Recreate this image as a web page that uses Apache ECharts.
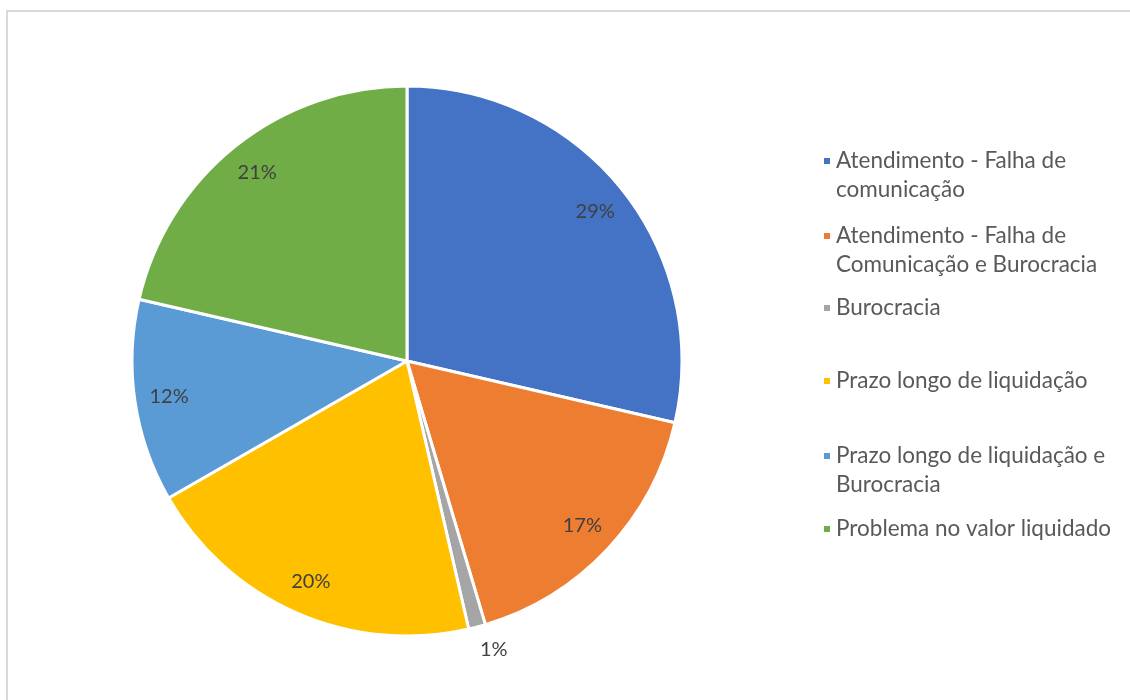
<!DOCTYPE html>
<html>
<head>
<meta charset="utf-8">
<script src="https://cdn.jsdelivr.net/npm/echarts@6/dist/echarts.min.js"></script>
<style>
  body { margin: 0; background: #fff; }
  #frame { position: absolute; left: 6px; top: 10px; width: 1200px; height: 800px;
           border-left: 2px solid #d9d9d9; border-top: 2px solid #d9d9d9; }
  #chart { position: absolute; left: 0; top: 0; width: 1130px; height: 700px; }
</style>
</head>
<body>
<div id="frame"></div>
<div id="chart"></div>
<script>
const categories = [
  'Atendimento - Falha de comunicação',
  'Atendimento - Falha de Comunicação e Burocracia',
  'Burocracia',
  'Prazo longo de liquidação',
  'Prazo longo de liquidação e Burocracia',
  'Problema no valor liquidado'
];
const legendText = [
  'Atendimento - Falha de\ncomunicação',
  'Atendimento - Falha de\nComunicação e Burocracia',
  'Burocracia',
  'Prazo longo de liquidação',
  'Prazo longo de liquidação e\nBurocracia',
  'Problema no valor liquidado'
];
const values = [28.6, 16.8, 1.0, 20.3, 11.9, 21.4];
const colors = ['#4472C4', '#ED7D31', '#A5A5A5', '#FFC000', '#5B9BD5', '#70AD47'];

const FONT = 'Lato';
const center = [407, 361];
const radius = 275;

// legend rows: icon centre y of each entry
const legendRowY = [161, 236, 308, 381, 456, 529];
const LINE = 28.5;

// two-line entries get a blank first line so the icon sits on the first text line
const legends = categories.map((name, i) => {
  const twoLines = legendText[i].indexOf('\n') >= 0;
  return {
    orient: 'vertical',
    left: 822,
    top: legendRowY[i] - (twoLines ? LINE * 1.5 : LINE / 2),
    padding: 0,
    itemWidth: 8,
    itemHeight: 8,
    icon: 'rect',
    selectedMode: false,
    data: [name],
    formatter: () => (twoLines ? '\n' : '') + legendText[i],
    textStyle: {
      fontFamily: FONT,
      fontSize: 22.5,
      color: '#595959',
      lineHeight: LINE
    }
  };
});

const pieData = categories.map((name, i) => ({
  name: name,
  value: values[i],
  itemStyle: { color: colors[i] }
}));

const labelData = categories.map((name, i) => {
  const item = { name: name, value: values[i] };
  if (values[i] < 5) {
    item.label = { position: 'outside', distanceToLabelLine: -3 };
    item.labelLine = { show: false, length: 23, length2: 0 };
  }
  return item;
});

const chart = echarts.init(document.getElementById('chart'));
chart.setOption({
  animation: false,
  legend: legends,
  series: [
    {
      type: 'pie',
      center: center,
      radius: radius,
      startAngle: 90,
      avoidLabelOverlap: false,
      silent: true,
      itemStyle: { borderColor: '#fff', borderWidth: 3 },
      label: { show: false },
      labelLine: { show: false },
      data: pieData
    },
    {
      // label carrier: places the percentages near the rim like Excel
      type: 'pie',
      center: center,
      radius: [200, radius],
      startAngle: 90,
      avoidLabelOverlap: false,
      silent: true,
      itemStyle: { color: 'rgba(0,0,0,0)' },
      label: {
        show: true,
        position: 'inside',
        fontFamily: FONT,
        fontSize: 20,
        color: '#404040',
        formatter: p => Math.round(p.percent) + '%'
      },
      labelLine: { show: false },
      data: labelData
    }
  ]
});
</script>
</body>
</html>
